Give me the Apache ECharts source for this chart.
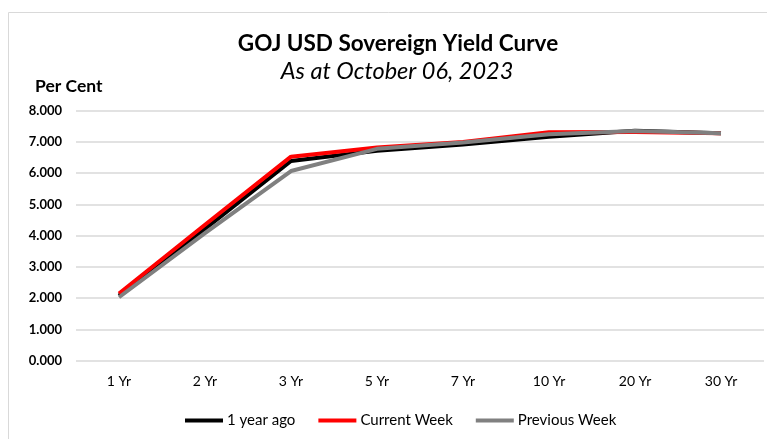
<!DOCTYPE html>
<html><head><meta charset="utf-8">
<script src="https://cdn.jsdelivr.net/npm/echarts@6/dist/echarts.min.js"></script>
<style>html,body{margin:0;padding:0;background:#fff}#c{width:767px;height:439px}</style>
</head><body><div id="c"></div>
<script>
const categories = ['1 Yr','2 Yr','3 Yr','5 Yr','7 Yr','10 Yr','20 Yr','30 Yr'];
const yearAgo = [2.08, 4.22, 6.39, 6.72, 6.92, 7.17, 7.36, 7.28];
const currentWeek = [2.15, 4.35, 6.53, 6.82, 7.00, 7.31, 7.32, 7.28];
const previousWeek = [2.03, 4.08, 6.07, 6.78, 6.98, 7.25, 7.35, 7.28];
const seriesNames = ['1 year ago','Current Week','Previous Week'];
const seriesColors = ['#000000','#ff0000','#808080'];

const chart = echarts.init(document.getElementById('c'));
const font = 'Lato, "Open Sans", sans-serif';
const dataSets = [yearAgo, currentWeek, previousWeek];
chart.setOption({
  animation: false,
  textStyle: {fontFamily: font},
  graphic: [
    {type:'rect', shape:{x:8.5,y:12.5,width:770,height:440}, style:{fill:'none', stroke:'#d9d9d9', lineWidth:1}, silent:true},
    {type:'text', x:398, y:32, style:{text:'GOJ USD Sovereign Yield Curve', font:'bold 22.5px '+font, fill:'#000', textAlign:'center'}},
    {type:'text', x:397, y:60, style:{text:'As at October 06, 2023', font:'italic 23.5px '+font, fill:'#000', textAlign:'center'}},
    {type:'text', x:35, y:77, style:{text:'Per Cent', font:'bold 17.5px '+font, fill:'#000'}}
  ],
  grid: {left:76, right:3, top:110.7, bottom:78.3, containLabel:false},
  legend: {
    top: 408, left: 180, itemWidth: 38, itemHeight: 4, itemGap: 23,
    icon: 'rect',
    textStyle: {fontSize: 15, color:'#000', fontFamily: font, padding:[0,0,0,-1]},
    data: seriesNames
  },
  xAxis: {
    type:'category', data: categories, boundaryGap:true,
    axisLine:{show:false}, axisTick:{show:false},
    axisLabel:{fontSize:14, color:'#000', margin:14}
  },
  yAxis: {
    type:'value', min:0, max:8, interval:1,
    axisLabel:{formatter: v => v.toFixed(3), fontSize:13, fontWeight:'bold', color:'#000', margin:14},
    splitLine:{lineStyle:{color:'#d9d9d9', width:1.5}},
    axisLine:{show:false}, axisTick:{show:false}
  },
  series: seriesNames.map((n,i)=>({
    name:n, type:'line', data:dataSets[i], symbol:'none',
    lineStyle:{color:seriesColors[i], width:4, join:'round'},
    itemStyle:{color:seriesColors[i]}
  }))
});
</script></body></html>
